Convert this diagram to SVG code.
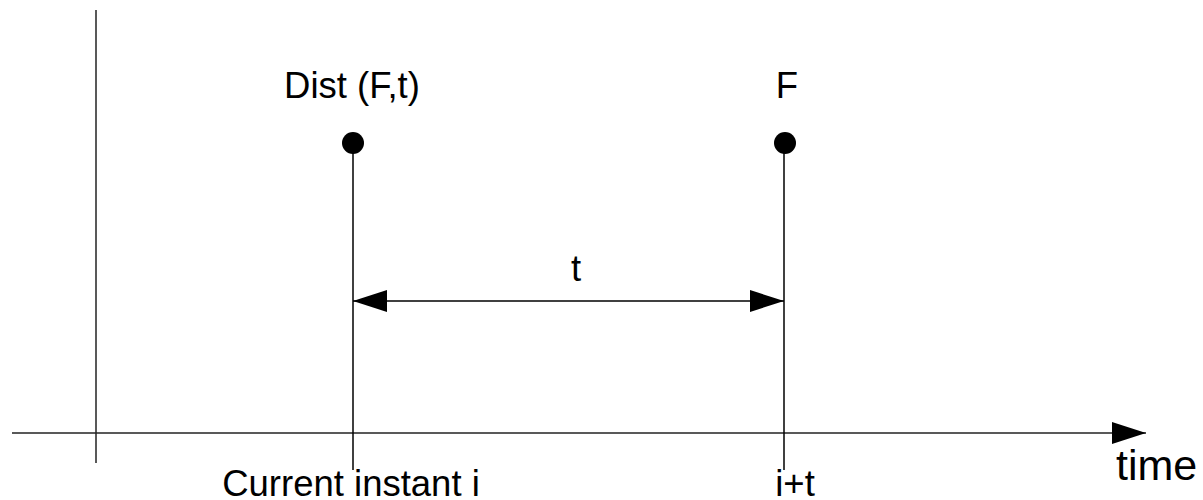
<svg xmlns="http://www.w3.org/2000/svg" width="1203" height="500" viewBox="0 0 1203 500">
<style>
.ln{stroke:#000;stroke-width:1.5;fill:none}
.ax{stroke:#222;stroke-width:1.5;fill:none}
text{font-family:"Liberation Sans",Arial,sans-serif;fill:#000}
.lbl{font-size:36.5px}
</style>
<defs>
<marker id="ah" markerWidth="34" markerHeight="22" refX="34" refY="11" orient="auto-start-reverse" markerUnits="userSpaceOnUse">
<path d="M0,0 L34,11 L0,22 Z" fill="#000"/>
</marker>
</defs>
<g id="axes">
<line class="ax" x1="96" y1="10" x2="96" y2="463"/>
<line class="ax" x1="12" y1="433" x2="1146" y2="433" marker-end="url(#ah)"/>
<text x="1116" y="480" font-size="43px">time</text>
</g>
<g id="connectors">
<line class="ln" x1="353" y1="143" x2="353" y2="470"/>
<line class="ln" x1="784" y1="143" x2="784" y2="470"/>
<line class="ln" x1="353" y1="301" x2="784" y2="301" marker-start="url(#ah)" marker-end="url(#ah)"/>
</g>
<g id="node-dist">
<circle cx="353" cy="143" r="11" fill="#000"/>
<text class="lbl" x="352" y="98" text-anchor="middle">Dist (F,t)</text>
</g>
<g id="node-f">
<circle cx="785" cy="143" r="11" fill="#000"/>
<text class="lbl" x="787" y="98" text-anchor="middle">F</text>
</g>
<g id="label-t">
<text class="lbl" x="576" y="281" text-anchor="middle">t</text>
</g>
<g id="label-current">
<text class="lbl" x="351" y="496" text-anchor="middle">Current instant i</text>
</g>
<g id="label-it">
<text class="lbl" x="795" y="496" text-anchor="middle">i+t</text>
</g>
</svg>
